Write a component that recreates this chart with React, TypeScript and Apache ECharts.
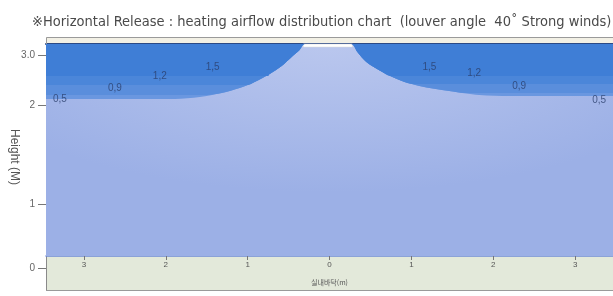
import React, { useEffect, useRef } from "react";
import * as echarts from "echarts";

const titleText = "※Horizontal Release : heating airflow distribution chart  (louver angle  40˚ Strong winds)";
const yAxisTitle = "Height (M)";
const xTickValues = [-3, -2, -1, 0, 1, 2, 3];
const yTickValues = [0, 1, 2.55, 3.33];
const yTickLabels = ["0", "1", "2", "3.0"];
const xRange = [-3.463, 3.463];
const yRange = [-0.344, 3.5];
const roomFloorLevel = 0.1875;
const louver = [-0.32, 0.28];

// lower boundaries of the velocity bands [x (m), height]
const band05 = [
  [-3.463, 2.641], [-1.89, 2.641], [-1.585, 2.672], [-1.317, 2.734], [-1.098, 2.8125],
  [-0.915, 2.906], [-0.732, 3.031], [-0.585, 3.156], [-0.463, 3.297], [-0.366, 3.406],
  [-0.305, 3.5], [0.268, 3.5], [0.341, 3.375], [0.451, 3.219], [0.646, 3.0625],
  [0.854, 2.9375], [1.098, 2.844], [1.463, 2.766], [1.829, 2.703], [2.2, 2.6875], [3.463, 2.6875],
];
const band09 = [
  [-3.463, 2.703], [-1.5, 2.703], [-1.317, 2.734], [-1.098, 2.8125],
  [-0.915, 2.906], [-0.732, 3.031], [-0.585, 3.156], [-0.463, 3.297], [-0.366, 3.406],
  [-0.305, 3.5], [0.268, 3.5], [0.341, 3.375], [0.451, 3.219], [0.646, 3.0625],
  [0.854, 2.9375], [1.098, 2.844], [1.463, 2.766], [1.65, 2.734], [3.463, 2.734],
];
const band12 = [
  [-3.463, 2.859], [-1.0, 2.859], [-0.915, 2.906], [-0.732, 3.031], [-0.585, 3.156],
  [-0.463, 3.297], [-0.366, 3.406], [-0.305, 3.5], [0.268, 3.5], [0.341, 3.375],
  [0.451, 3.219], [0.646, 3.0625], [0.854, 2.9375], [1.01, 2.875], [3.463, 2.875],
];
const band15 = [
  [-3.463, 3.0], [-0.75, 3.0], [-0.732, 3.031], [-0.585, 3.156], [-0.463, 3.297],
  [-0.366, 3.406], [-0.305, 3.5], [0.268, 3.5], [0.341, 3.375], [0.451, 3.219],
  [0.646, 3.0625], [0.74, 3.0], [3.463, 3.0],
];
const bandColors = ["#6a97e0", "#5a8edc", "#4b86d9", "#3f7ed6"];

const contourLabels = [
  { name: "0,5", value: [-3.293, 2.656] },
  { name: "0,9", value: [-2.622, 2.8125] },
  { name: "1,2", value: [-2.073, 3.0] },
  { name: "1,5", value: [-1.427, 3.141] },
  { name: "1,5", value: [1.22, 3.156] },
  { name: "1,2", value: [1.768, 3.047] },
  { name: "0,9", value: [2.317, 2.844] },
  { name: "0,5", value: [3.293, 2.625] },
];

export default function App() {
  const ref = useRef<HTMLDivElement>(null);
  useEffect(() => {
    if (!ref.current) return;
    const chart = echarts.init(ref.current, undefined, { renderer: "svg" });
    const bands = [band05, band09, band12, band15];
    const bandSeries = bands.map((b, i) => ({
      type: "line",
      data: b,
      z: 3 + i,
      symbol: "none",
      smooth: 0.3,
      lineStyle: { width: 0 },
      areaStyle: { origin: "end", color: bandColors[i], opacity: 1 },
      silent: true,
    }));
    chart.setOption({
      animation: false,
      title: {
        text: titleText,
        left: 27,
        top: 8,
        textStyle: {
          fontSize: 14.5,
          fontWeight: "normal",
          color: "#4a4a4a",
          fontFamily: "'Liberation Sans Narrow', 'DejaVu Sans Condensed', 'Liberation Sans', sans-serif",
        },
      },
      grid: {
        left: 46,
        right: 0,
        top: 44,
        bottom: 6,
        show: true,
        backgroundColor: "#e3e9da",
        borderWidth: 0,
        outerBoundsMode: "none",
        containLabel: false,
      },
      graphic: [
        { type: "rect", shape: { x: 46, y: 37, width: 567, height: 7 }, style: { fill: "#f2f0e5" }, z: -1 },
        { type: "polyline", shape: { points: [[46.5, 44], [46.5, 37.5], [620, 37.5]] }, style: { fill: "none", stroke: "#9a9a9a", lineWidth: 1 }, z: 100 },
        { type: "line", shape: { x1: 46, y1: 290.5, x2: 620, y2: 290.5 }, style: { stroke: "#9a9a9a", lineWidth: 1 }, z: 100 },
        {
          type: "text",
          x: 15,
          y: 157,
          rotation: -Math.PI / 2,
          style: { text: yAxisTitle, fontSize: 12, fill: "#555", align: "center", verticalAlign: "middle" },
          z: 100,
        },
      ],
      xAxis: [
        {
          type: "value",
          min: xRange[0],
          max: xRange[1],
          position: "bottom",
          offset: -34,
          splitLine: { show: false },
          axisLine: { show: true, onZero: false, lineStyle: { color: "#6f8bd6", width: 1.5 } },
          axisTick: { show: true, length: 4, customValues: xTickValues, lineStyle: { color: "#777" } },
          axisLabel: {
            customValues: xTickValues,
            formatter: (v: number) => String(Math.abs(Math.round(v))),
            fontSize: 8,
            color: "#555",
            margin: 4,
          },
          name: "실내바닥(m)",
          nameLocation: "middle",
          nameGap: 22,
          nameTextStyle: { fontSize: 7, color: "#555", fontFamily: "'Noto Sans CJK KR', sans-serif" },
        },
        {
          type: "value",
          min: xRange[0],
          max: xRange[1],
          position: "top",
          splitLine: { show: false },
          axisLine: { show: true, onZero: false, lineStyle: { color: "#2b4a86", width: 2 } },
          axisTick: { show: false },
          axisLabel: { show: false },
        },
      ],
      yAxis: {
        type: "value",
        min: yRange[0],
        max: yRange[1],
        splitLine: { show: false },
        axisLine: { show: true, onZero: false, lineStyle: { color: "#8a8a8a" } },
        axisTick: { show: true, length: 8, customValues: yTickValues, lineStyle: { color: "#777" } },
        axisLabel: {
          customValues: yTickValues,
          formatter: (v: number) => {
            const i = yTickValues.findIndex((t) => Math.abs(t - v) < 1e-6);
            return i >= 0 ? yTickLabels[i] : "";
          },
          fontSize: 10,
          color: "#666",
          margin: 11,
        },
      },
      series: [
        {
          type: "line",
          data: [],
          z: 1,
          silent: true,
          markArea: {
            silent: true,
            itemStyle: {
              color: {
                type: "radial",
                x: 0.5,
                y: 0,
                r: 0.7,
                colorStops: [
                  { offset: 0, color: "#bac7ee" },
                  { offset: 1, color: "#9cb0e6" },
                ],
              },
            },
            data: [[{ coord: [xRange[0], roomFloorLevel] }, { coord: [xRange[1], yRange[1]] }]],
          },
        },
        ...bandSeries,
        {
          type: "line",
          data: [],
          z: 8,
          silent: true,
          markArea: {
            silent: true,
            itemStyle: { color: "#ffffff", borderColor: "#d8d8d8", borderWidth: 0.5 },
            data: [[{ coord: [louver[0], yRange[1]] }, { coord: [louver[1], 3.453] }]],
          },
        },
        {
          type: "scatter",
          z: 10,
          symbolSize: 0,
          data: contourLabels,
          label: {
            show: true,
            position: "inside",
            formatter: (p: any) => p.name,
            fontSize: 10,
            color: "#2b3f6b",
          },
          silent: true,
        },
      ],
    });
    return () => chart.dispose();
  }, []);
  return <div ref={ref} style={{ position: "fixed", left: 0, top: 0, width: 613, height: 296 }} />;
}
